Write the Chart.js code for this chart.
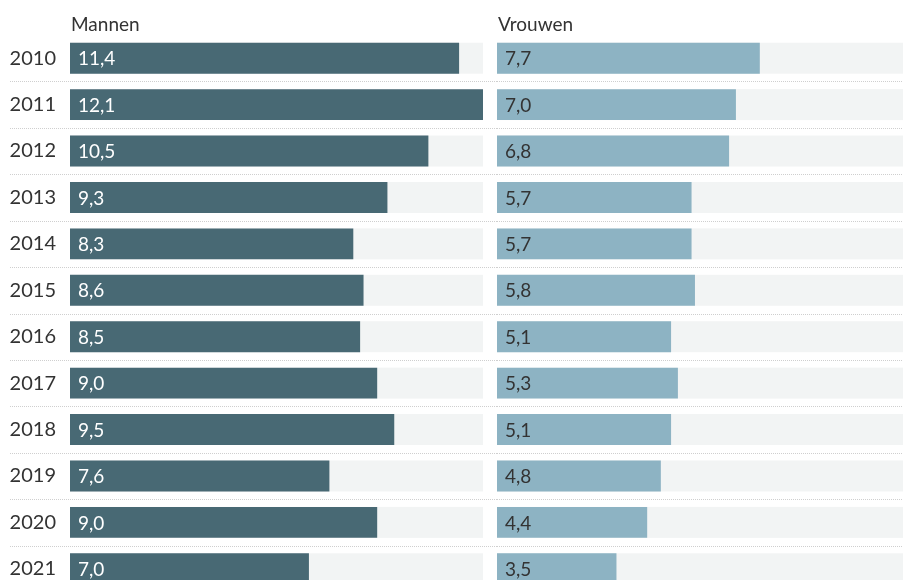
<!DOCTYPE html>
<html>
<head>
<meta charset="utf-8">
<script src="https://cdn.jsdelivr.net/npm/chart.js@4.4.1/dist/chart.umd.min.js"></script>
<style>
  html, body { margin: 0; padding: 0; background: #fff; overflow: hidden; width: 903px; height: 580px; }
  #wrap { position: relative; width: 903px; height: 580px; overflow: hidden; }
  #left { position: absolute; left: 0; top: 0; }
  #right { position: absolute; left: 497px; top: 0; }
</style>
</head>
<body>
<div id="wrap">
  <canvas id="left" width="497" height="592"></canvas>
  <canvas id="right" width="413" height="592"></canvas>
</div>
<script>
const years = ['2010','2011','2012','2013','2014','2015','2016','2017','2018','2019','2020','2021'];
const mannen = [11.4, 12.1, 10.5, 9.3, 8.3, 8.6, 8.5, 9.0, 9.5, 7.6, 9.0, 7.0];
const vrouwen = [7.7, 7.0, 6.8, 5.7, 5.7, 5.8, 5.1, 5.3, 5.1, 4.8, 4.4, 3.5];
const panelTitles = ['Mannen', 'Vrouwen'];
const xMax = 12.1;

const FONT = 'Lato, "Open Sans", sans-serif';
const FS = 19;
const FS_TICK = 20;
const TEXT = '#333333';

const panelPlugin = {
  id: 'panelPlugin',
  beforeDatasetsDraw(chart, args, opts) {
    const ctx = chart.ctx;
    const meta = chart.getDatasetMeta(0);
    const ca = chart.chartArea;
    ctx.save();
    ctx.fillStyle = '#f2f4f4';
    meta.data.forEach(el => {
      const p = el.getProps(['y', 'height'], true);
      ctx.fillRect(ca.left, p.y - p.height / 2, ca.right - ca.left, p.height);
    });
    ctx.restore();
  },
  afterDatasetsDraw(chart, args, opts) {
    const ctx = chart.ctx;
    const meta = chart.getDatasetMeta(0);
    const ca = chart.chartArea;
    const vals = chart.data.datasets[0].data;
    ctx.save();
    ctx.font = FS + 'px ' + FONT;
    ctx.fillStyle = opts.labelColor;
    ctx.textAlign = 'left';
    ctx.textBaseline = 'middle';
    meta.data.forEach((el, i) => {
      const p = el.getProps(['base', 'y'], true);
      ctx.fillText(vals[i].toFixed(1).replace('.', ','), p.base + 8, p.y + 1);
    });
    ctx.strokeStyle = '#cfcfcf';
    ctx.lineWidth = 1;
    ctx.setLineDash([1, 1]);
    for (let i = 0; i < meta.data.length - 1; i++) {
      const y = Math.round((meta.data[i].y + meta.data[i + 1].y) / 2) + 0.5;
      ctx.beginPath();
      ctx.moveTo(opts.lineStart, y);
      ctx.lineTo(chart.width, y);
      ctx.stroke();
    }
    ctx.setLineDash([]);
    ctx.fillStyle = TEXT;
    ctx.textBaseline = 'alphabetic';
    ctx.fillText(opts.title, ca.left + 1, ca.top - 4);
    ctx.restore();
  }
};

function makeChart(id, values, color, labelColor, title, showY, padRight, lineStart) {
  return new Chart(document.getElementById(id), {
    type: 'bar',
    data: {
      labels: years,
      datasets: [{
        data: values,
        backgroundColor: color,
        borderWidth: 0,
        barPercentage: 31 / 46.45,
        categoryPercentage: 1.0
      }]
    },
    options: {
      indexAxis: 'y',
      responsive: false,
      animation: false,
      events: [],
      layout: { padding: { top: 35, bottom: 0, left: 0, right: padRight } },
      plugins: {
        legend: { display: false },
        tooltip: { enabled: false },
        panelPlugin: { title: title, labelColor: labelColor, lineStart: lineStart }
      },
      scales: {
        x: {
          display: false,
          min: 0,
          max: xMax
        },
        y: {
          display: showY,
          grid: { display: false },
          border: { display: false },
          ticks: {
            color: TEXT,
            font: { family: FONT, size: FS_TICK },
            padding: 6,
            autoSkip: false
          },
          afterFit(axis) {
            if (showY) { axis.width = 70; }
            axis.paddingTop = 0;
            axis.paddingBottom = 0;
          }
        }
      }
    },
    plugins: [panelPlugin]
  });
}

makeChart('left', mannen, '#486974', '#ffffff', panelTitles[0], true, 14, 10);
makeChart('right', vrouwen, '#8db3c3', TEXT, panelTitles[1], false, 0, 0);
</script>
</body>
</html>
